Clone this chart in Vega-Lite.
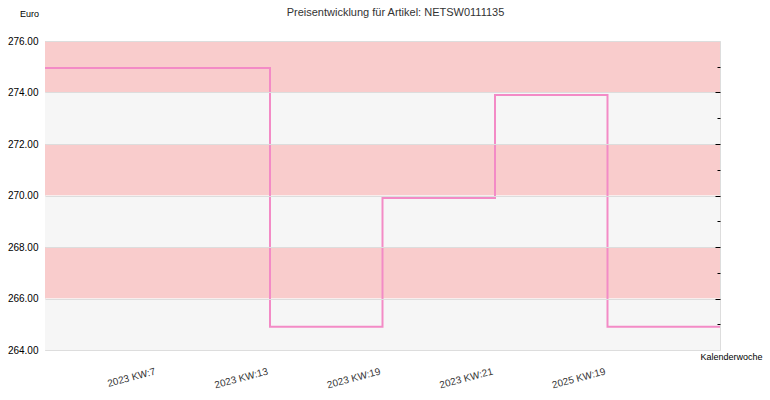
{
  "$schema": "https://vega.github.io/schema/vega-lite/v6.json",
  "width": 675,
  "height": 309,
  "autosize": {"type": "none"},
  "padding": {"left": 45, "top": 41, "right": 50, "bottom": 50},
  "background": "white",
  "title": {
    "text": "Preisentwicklung für Artikel: NETSW0111135",
    "anchor": "middle",
    "frame": "group",
    "dx": 13,
    "offset": -18,
    "baseline": "alphabetic",
    "font": "Liberation Sans",
    "fontSize": 11,
    "fontWeight": "normal",
    "color": "#333333"
  },
  "config": {
    "view": {"stroke": "#dddddd", "strokeWidth": 1},
    "font": "Liberation Sans"
  },
  "datasets": {
    "preise": [
      {"woche": "Beginn", "preis": 274.95},
      {"woche": "2023 KW:7", "preis": 274.95},
      {"woche": "2023 KW:13", "preis": 264.9},
      {"woche": "2023 KW:19", "preis": 269.9},
      {"woche": "2023 KW:21", "preis": 273.9},
      {"woche": "2025 KW:19", "preis": 264.9},
      {"woche": "Ende", "preis": 264.9}
    ],
    "baender": [
      {"von": 274, "bis": 276, "band": "rosa"},
      {"von": 272, "bis": 274, "band": "grau"},
      {"von": 270, "bis": 272, "band": "rosa"},
      {"von": 268, "bis": 270, "band": "grau"},
      {"von": 266, "bis": 268, "band": "rosa"},
      {"von": 264, "bis": 266, "band": "grau"}
    ]
  },
  "layer": [
    {
      "data": {"name": "baender"},
      "mark": {"type": "rect"},
      "encoding": {
        "y": {
          "field": "von",
          "type": "quantitative",
          "scale": {"domain": [264, 276], "nice": false, "zero": false},
          "axis": {
            "values": [264, 266, 268, 270, 272, 274, 276],
            "format": ".2f",
            "grid": true,
            "gridColor": "#dddddd",
            "gridWidth": 1,
            "ticks": false,
            "domain": false,
            "labelColor": "#000000",
            "labelFontSize": 10,
            "labelPadding": 7,
            "zindex": 1,
            "title": "Euro",
            "titleAngle": 0,
            "titleX": -16,
            "titleY": -28,
            "titleAlign": "center",
            "titleBaseline": "middle",
            "titleFontSize": 9,
            "titleFontWeight": "normal",
            "titleColor": "#000000"
          }
        },
        "y2": {"field": "bis"},
        "color": {
          "field": "band",
          "type": "nominal",
          "scale": {"domain": ["rosa", "grau"], "range": ["#F9CCCC", "#F6F6F6"]},
          "legend": null
        }
      }
    },
    {
      "data": {"name": "preise"},
      "mark": {"type": "line", "interpolate": "step-after", "color": "#F38BC6", "strokeWidth": 2},
      "encoding": {
        "x": {
          "field": "woche",
          "type": "ordinal",
          "sort": null,
          "scale": {"type": "point", "padding": 0},
          "axis": {
            "labelExpr": "datum.value === 'Beginn' || datum.value === 'Ende' ? '' : datum.value",
            "labelAngle": -15,
            "labelAlign": "right",
            "labelBaseline": "top",
            "labelOffset": -4,
            "labelPadding": 16,
            "labelOverlap": false,
            "labelFontSize": 10,
            "labelColor": "#333333",
            "ticks": false,
            "domain": false,
            "grid": false,
            "title": "Kalenderwoche",
            "titleX": 655,
            "titleY": 6,
            "titleAlign": "left",
            "titleBaseline": "middle",
            "titleAngle": 0,
            "titleFontSize": 9,
            "titleFontWeight": "normal",
            "titleColor": "#000000"
          }
        },
        "y": {
          "field": "preis",
          "type": "quantitative",
          "scale": {"domain": [264, 276], "nice": false, "zero": false},
          "axis": {
            "orient": "right",
            "values": [265, 266, 267, 268, 269, 270, 271, 272, 273, 274, 275],
            "labels": false,
            "domain": false,
            "grid": false,
            "ticks": true,
            "tickColor": "#000000",
            "tickWidth": 1,
            "tickSize": {"condition": {"test": "datum.value % 2 === 0", "value": -5}, "value": -3},
            "title": null,
            "zindex": 1
          }
        }
      }
    }
  ],
  "resolve": {"scale": {"y": "independent"}, "axis": {"y": "independent"}}
}
